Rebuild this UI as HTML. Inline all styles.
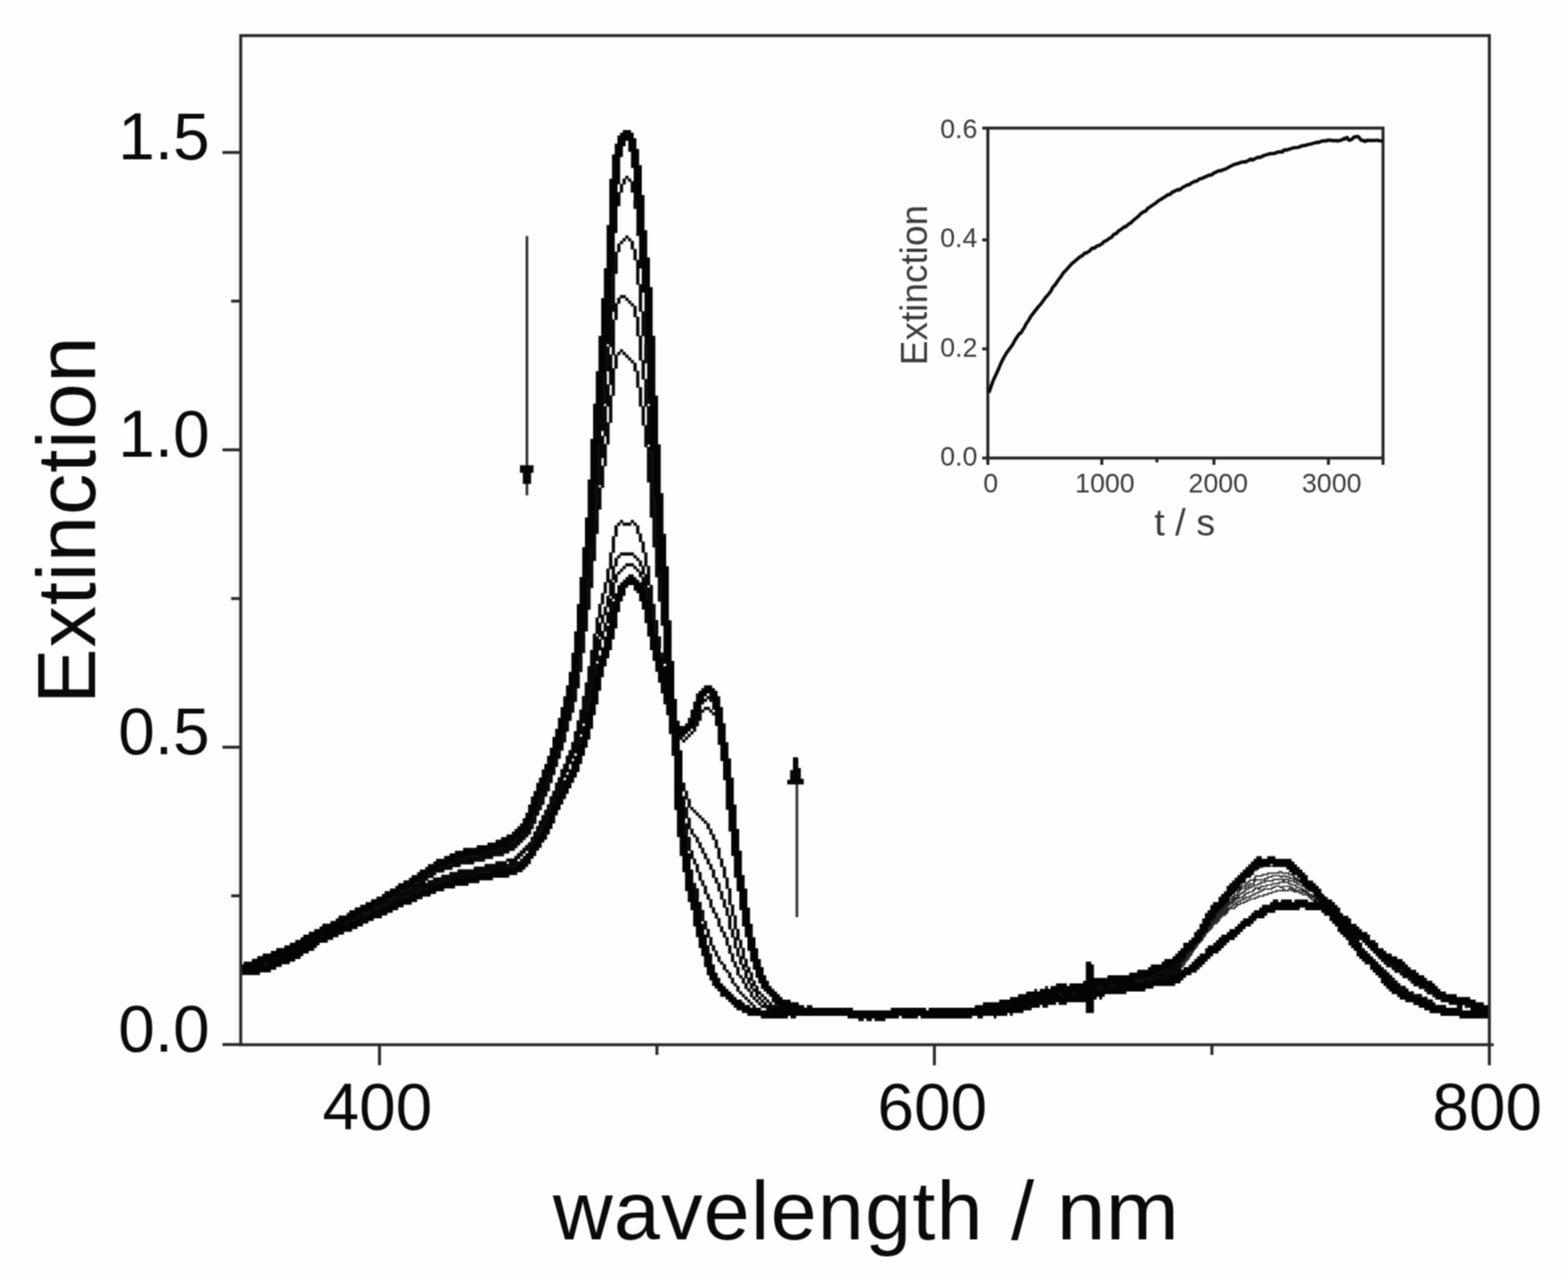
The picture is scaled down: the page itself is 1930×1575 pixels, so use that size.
<!DOCTYPE html>
<html lang="en"><head><meta charset="utf-8"><title>Extinction spectra</title>
<style>
html,body{margin:0;padding:0;background:#fefefe;}
body{width:1930px;height:1575px;overflow:hidden;}
svg{display:block;}
</style></head><body>
<svg xmlns="http://www.w3.org/2000/svg" xmlns:xlink="http://www.w3.org/1999/xlink" width="1930" height="1575" viewBox="0 0 1930 1575">
<defs><filter id="soft" filterUnits="userSpaceOnUse" x="0" y="0" width="1930" height="1575" color-interpolation-filters="sRGB"><feConvolveMatrix order="3" kernelMatrix="1 2 1 2 4 2 1 2 1" divisor="16" edgeMode="duplicate" preserveAlpha="true"/></filter></defs>
<g filter="url(#soft)">
<rect width="1930" height="1575" fill="#fefefe"/>
<path fill="none" stroke="#2a2a2a" stroke-width="1.7" stroke-linejoin="miter" d="M1451.7 1193.3h1.7v-3.3h1.7v-1.7h1.7v-1.7h1.7v-3.3h1.7v-1.7h1.7v-1.7h1.7v-3.3h1.7v-1.7h1.7v-3.3h1.7v-3.3h1.7v-1.7h1.7v-1.7h1.7v-3.3h1.7v-1.7h1.7v-1.7h1.7v-1.7h1.7v-3.3h1.7v-1.7h1.7v-3.3h1.7v-1.7h1.7v-1.7h1.7v-1.7h1.7v-1.7h1.7v-3.3h1.7v-1.7h1.7h1.7v-1.7h1.7v-1.7h1.7v-3.3h1.7v-1.7h1.7v-1.7h1.7h1.7v-1.7h1.7v-1.7h1.7v-3.3h1.7v-1.7h1.7h1.7h1.7h1.7v-1.7h1.7v-1.7h1.7v-1.7h1.7h1.7v-1.7h1.7h1.7h1.7v-1.7h1.7h1.7v-1.7h1.7h1.7v-1.7h1.7h1.7h1.7h1.7v-1.7h1.7h1.7v-1.7h1.7h1.7h1.7h1.7v-1.7h1.7h1.7h1.7v-1.7h1.7h1.7h1.7v-1.7h1.7h1.7h1.7v-1.7h1.7h1.7h1.7h1.7h1.7v-1.7h1.7v1.7h1.7h1.7h1.7v-1.7h1.7h1.7v1.7h1.7h1.7v1.7h1.7h1.7h1.7h1.7v1.7h1.7h1.7v1.7h1.7h1.7h1.7h1.7v1.7h1.7v1.7h1.7v1.7h1.7v1.7h1.7h1.7h1.7v1.7h1.7v1.7h1.7v-1.7h1.7h1.7v1.7h1.7h1.7v1.7h1.7v1.7h1.7v1.7h1.7v1.7h1.7v1.7h1.7v3.3h1.7h1.7M1451.7 1190h1.7v-1.7h1.7v-1.7h1.7v-3.3h1.7v-1.7h1.7v-1.7h1.7v-3.3h1.7v-1.7h1.7v-1.7h1.7v-3.3h1.7v-1.7h1.7v-3.3h1.7v-3.3h1.7v-1.7h1.7v-3.3h1.7v-1.7h1.7v-1.7h1.7v-3.3h1.7v-1.7h1.7v-1.7h1.7v-3.3h1.7v-1.7h1.7v-1.7h1.7v-1.7h1.7v-1.7h1.7v-1.7h1.7v-1.7h1.7v-1.7h1.7v-1.7h1.7v-1.7h1.7v-1.7h1.7v-1.7h1.7v-1.7h1.7v-1.7h1.7v-1.7h1.7v-1.7h1.7h1.7v-1.7h1.7v-1.7h1.7v-1.7h1.7h1.7v-1.7h1.7v-1.7h1.7h1.7v-1.7h1.7h1.7v-1.7h1.7h1.7v-1.7h1.7h1.7h1.7v-1.7h1.7h1.7v-1.7h1.7h1.7v-1.7h1.7h1.7v-1.7h1.7h1.7v-1.7h1.7h1.7v-1.7h1.7h1.7h1.7h1.7h1.7h1.7v-1.7h1.7h1.7v-1.7h1.7h1.7h1.7h1.7v1.7h1.7h1.7v-1.7h1.7h1.7h1.7h1.7h1.7v1.7h1.7h1.7v1.7h1.7h1.7v1.7h1.7h1.7h1.7h1.7h1.7v1.7h1.7h1.7v1.7h1.7h1.7v1.7h1.7v1.7h1.7h1.7v1.7h1.7h1.7v1.7h1.7h1.7v1.7h1.7v1.7h1.7v1.7h1.7h1.7h1.7v1.7h1.7v1.7h1.7v1.7h1.7v1.7h1.7h1.7v1.7h1.7v1.7h1.7M1451.7 1188.3h1.7v-1.7h1.7v-3.3h1.7v-1.7h1.7v-1.7h1.7v-1.7h1.7v-3.3h1.7v-1.7h1.7v-1.7h1.7v-3.3h1.7v-3.3h1.7v-1.7h1.7v-1.7h1.7v-1.7h1.7v-3.3h1.7v-1.7h1.7v-3.3h1.7v-1.7h1.7v-3.3h1.7v-1.7h1.7v-3.3h1.7v-1.7h1.7v-3.3h1.7v-1.7h1.7v-1.7h1.7v-1.7h1.7h1.7v-1.7h1.7v-1.7h1.7v-3.3h1.7v-1.7h1.7v-1.7h1.7v-1.7h1.7v-1.7h1.7v-1.7h1.7v-1.7h1.7v-1.7h1.7v-1.7h1.7h1.7v-1.7h1.7v-1.7h1.7v-1.7h1.7h1.7v-1.7h1.7h1.7h1.7v-1.7h1.7v-1.7h1.7v-1.7h1.7h1.7v-1.7h1.7h1.7h1.7v-1.7h1.7v-1.7h1.7v-1.7h1.7h1.7v1.7h1.7v-1.7h1.7v-1.7h1.7h1.7h1.7h1.7v-1.7h1.7h1.7h1.7h1.7v-1.7h1.7h1.7h1.7h1.7h1.7v-1.7h1.7h1.7h1.7h1.7h1.7h1.7h1.7v1.7h1.7h1.7v1.7h1.7h1.7h1.7v1.7h1.7v1.7h1.7h1.7h1.7v1.7h1.7h1.7v1.7h1.7h1.7v1.7h1.7v1.7h1.7v1.7h1.7h1.7v1.7h1.7v1.7h1.7h1.7v1.7h1.7v1.7h1.7h1.7v1.7h1.7h1.7h1.7v1.7h1.7v1.7h1.7v1.7h1.7v1.7h1.7v1.7h1.7v1.7h1.7v1.7h1.7M1451.7 1185h1.7v-1.7h1.7v-1.7h1.7v-1.7h1.7v-3.3h1.7v-1.7h1.7v-1.7h1.7v-1.7h1.7v-3.3h1.7v-1.7h1.7v-3.3h1.7v-1.7h1.7v-3.3h1.7v-1.7h1.7v-3.3h1.7v-1.7h1.7v-3.3h1.7v-1.7h1.7v-3.3h1.7v-1.7h1.7v-3.3h1.7v-1.7h1.7v-1.7h1.7v-1.7h1.7v-1.7h1.7v-1.7h1.7v-1.7h1.7v-1.7h1.7v-3.3h1.7v-1.7h1.7v-1.7h1.7v-1.7h1.7v-1.7h1.7v-1.7h1.7v-1.7h1.7v-1.7h1.7v-1.7h1.7h1.7v-1.7h1.7v-1.7h1.7v-1.7h1.7h1.7v-1.7h1.7v-1.7h1.7v-1.7h1.7h1.7v-1.7h1.7v-1.7h1.7v-1.7h1.7h1.7v-1.7h1.7h1.7v-1.7h1.7h1.7v-1.7h1.7h1.7h1.7v-1.7h1.7h1.7v-1.7h1.7h1.7h1.7v-1.7h1.7h1.7h1.7h1.7h1.7h1.7v-1.7h1.7h1.7h1.7h1.7h1.7h1.7h1.7v1.7h1.7v-1.7h1.7h1.7h1.7v1.7h1.7h1.7h1.7h1.7v1.7h1.7h1.7v1.7h1.7v1.7h1.7h1.7h1.7v1.7h1.7h1.7v1.7h1.7v1.7h1.7h1.7v1.7h1.7h1.7v1.7h1.7h1.7h1.7v1.7h1.7h1.7v1.7h1.7v1.7h1.7v1.7h1.7h1.7v1.7h1.7v1.7h1.7v3.3h1.7v1.7h1.7v1.7h1.7v1.7h1.7v1.7h1.7M1451.7 1185h1.7v-3.3h1.7v-1.7h1.7v-1.7h1.7v-3.3h1.7v-1.7h1.7v-1.7h1.7v-3.3h1.7v-1.7h1.7v-3.3h1.7v-3.3h1.7v-1.7h1.7v-1.7h1.7v-1.7h1.7v-1.7h1.7v-3.3h1.7v-3.3h1.7v-3.3h1.7v-1.7h1.7v-1.7h1.7v-1.7h1.7v-1.7h1.7v-1.7h1.7v-3.3h1.7v-3.3h1.7v-1.7h1.7v-1.7h1.7v-1.7h1.7v-1.7h1.7v-1.7h1.7v-3.3h1.7v-1.7h1.7v-1.7h1.7v-1.7h1.7v-1.7h1.7v-1.7h1.7v-1.7h1.7h1.7v-1.7h1.7v-1.7h1.7v-1.7h1.7h1.7v-3.3h1.7v-1.7h1.7v-1.7h1.7v-1.7h1.7h1.7h1.7v-1.7h1.7h1.7v-1.7h1.7v-1.7h1.7h1.7h1.7v-3.3h1.7v-1.7h1.7h1.7h1.7h1.7h1.7h1.7h1.7v-1.7h1.7h1.7v-1.7h1.7h1.7h1.7v-1.7h1.7h1.7h1.7h1.7h1.7h1.7v1.7h1.7h1.7v-1.7h1.7h1.7v1.7h1.7h1.7h1.7v1.7h1.7h1.7h1.7v1.7h1.7h1.7v1.7h1.7h1.7v1.7h1.7h1.7v1.7h1.7h1.7v1.7h1.7v1.7h1.7v1.7h1.7h1.7v1.7h1.7v1.7h1.7v1.7h1.7h1.7v1.7h1.7v1.7h1.7h1.7h1.7v1.7h1.7v1.7h1.7v1.7h1.7v1.7h1.7v3.3h1.7v1.7h1.7v1.7h1.7v1.7h1.7v1.7h1.7M1451.7 1181.7h1.7v-1.7h1.7v-1.7h1.7v-1.7h1.7v-3.3h1.7v-1.7h1.7v-1.7h1.7v-1.7h1.7v-3.3h1.7v-1.7h1.7v-1.7h1.7v-3.3h1.7v-1.7h1.7v-3.3h1.7v-3.3h1.7v-1.7h1.7v-3.3h1.7v-1.7h1.7v-3.3h1.7v-3.3h1.7v-1.7h1.7v-3.3h1.7v-1.7h1.7v-1.7h1.7h1.7v-3.3h1.7v-1.7h1.7v-3.3h1.7v-1.7h1.7v-3.3h1.7v-1.7h1.7v-1.7h1.7h1.7v-1.7h1.7v-1.7h1.7v-3.3h1.7v-1.7h1.7v-3.3h1.7h1.7v-1.7h1.7v-1.7h1.7v-1.7h1.7h1.7v-1.7h1.7v-1.7h1.7v-1.7h1.7h1.7h1.7v-1.7h1.7v-1.7h1.7v-1.7h1.7v-1.7h1.7h1.7h1.7v-1.7h1.7v-3.3h1.7h1.7h1.7h1.7h1.7v-1.7h1.7h1.7h1.7h1.7v-1.7h1.7h1.7h1.7h1.7h1.7h1.7h1.7h1.7v-1.7h1.7h1.7v1.7h1.7h1.7h1.7h1.7h1.7v1.7h1.7h1.7h1.7v1.7h1.7v1.7h1.7v1.7h1.7h1.7v1.7h1.7h1.7h1.7v1.7h1.7v1.7h1.7v1.7h1.7h1.7v1.7h1.7v1.7h1.7v1.7h1.7h1.7v1.7h1.7v1.7h1.7h1.7h1.7v1.7h1.7v3.3h1.7h1.7v1.7h1.7v1.7h1.7v3.3h1.7v1.7h1.7h1.7v3.3h1.7v3.3h1.7h1.7M1451.7 1178.3h1.7v-1.7h1.7v-1.7h1.7v-1.7h1.7h1.7v-3.3h1.7v-1.7h1.7v-1.7h1.7v-1.7h1.7v-1.7h1.7v-3.3h1.7v-3.3h1.7v-3.3h1.7v-1.7h1.7v-3.3h1.7v-1.7h1.7v-3.3h1.7v-1.7h1.7v-1.7h1.7v-3.3h1.7v-3.3h1.7v-1.7h1.7v-1.7h1.7v-3.3h1.7v-1.7h1.7v-1.7h1.7v-3.3h1.7v-1.7h1.7v-1.7h1.7v-1.7h1.7v-1.7h1.7v-1.7h1.7v-3.3h1.7v-1.7h1.7v-3.3h1.7v-1.7h1.7v-1.7h1.7v-1.7h1.7v-1.7h1.7v-1.7h1.7v-1.7h1.7v-1.7h1.7v-1.7h1.7v-1.7h1.7h1.7v-1.7h1.7v-3.3h1.7v-1.7h1.7v-1.7h1.7h1.7v-1.7h1.7v-1.7h1.7v-1.7h1.7v-1.7h1.7v-1.7h1.7h1.7v-1.7h1.7v-1.7h1.7h1.7h1.7v-1.7h1.7h1.7h1.7h1.7h1.7h1.7h1.7h1.7h1.7h1.7v-1.7h1.7h1.7h1.7v1.7h1.7h1.7h1.7h1.7h1.7h1.7h1.7v1.7h1.7v1.7h1.7v1.7h1.7h1.7v1.7h1.7v1.7h1.7v1.7h1.7v1.7h1.7v1.7h1.7v1.7h1.7h1.7v1.7h1.7v1.7h1.7h1.7v1.7h1.7v1.7h1.7v1.7h1.7v1.7h1.7v1.7h1.7v1.7h1.7v1.7h1.7v1.7h1.7v1.7h1.7v1.7h1.7v3.3h1.7h1.7h1.7v3.3h1.7v3.3h1.7v1.7h1.7h1.7v3.3h1.7"/>
<path fill="#080808" stroke="#080808" stroke-width="0.7" stroke-linejoin="miter" d="M770 216.67h3.33v3.33h-3.33zM773.33 220h3.33v3.33h-3.33zM770 220v6.67h-3.33v-6.67zM776.67 223.33h3.33v13.33h-3.33zM766.67 226.67v10h-3.33v-10zM763.33 236.67v16.67h-3.33v-16.67zM780 246.67h3.33v10h-3.33zM783.33 286.67h3.33v3.33h-3.33zM770 290h3.33v3.33h-3.33zM773.33 293.33h3.33v3.33h-3.33zM770 293.33v3.33h-3.33v-3.33zM766.67 296.67v3.33h-3.33v-3.33zM776.67 296.67h3.33v10h-3.33zM763.33 300v10h-3.33v-10zM780 306.67h3.33v13.33h-3.33zM760 310v26.67h-3.33v36.67h3.33v20h-3.33v-10h-3.33v10h3.33v43.33h-3.33v-10h-3.33v-3.33h-3.33v-3.33h3.33v-46.67h3.33v-40h3.33v-23.33zM783.33 320h6.67v10h-3.33v20h-3.33zM786.67 350h3.33v33.33h-3.33zM763.33 363.33h6.67v3.33h-6.67zM763.33 366.67v6.67h-3.33v-6.67zM770 366.67h3.33v3.33h-3.33zM773.33 370h3.33v3.33h-3.33zM776.67 373.33h3.33v3.33h-3.33zM780 376.67h3.33v13.33h-3.33zM790 383.33h3.33v30h-3.33zM783.33 390h3.33v23.33h-3.33zM786.67 413.33h3.33v30h-3.33zM750 426.67v10h3.33v16.67h3.33v33.33h-3.33v-13.33h-3.33v-16.67h-3.33v-30zM793.33 423.33h3.33v23.33h-3.33v20h-3.33v-23.33h3.33zM763.33 430h3.33v3.33h-3.33zM766.67 433.33h3.33v3.33h-3.33zM763.33 433.33v3.33h-3.33v-3.33zM756.67 436.67h3.33v16.67h-3.33zM770 436.67h3.33v3.33h-3.33zM773.33 440h3.33v3.33h-3.33zM776.67 443.33h3.33v3.33h-3.33zM780 446.67h3.33v10h-3.33zM783.33 456.67h3.33v20h-3.33zM743.33 460h3.33v13.33h3.33v13.33h3.33v33.33h-3.33v-20h-3.33v-3.33h-3.33zM793.33 466.67h3.33v26.67h3.33v3.33h-3.33v3.33h-3.33zM786.67 476.67h3.33v23.33h-3.33zM746.67 500v20h3.33v26.67h-3.33v-10h-3.33v-6.67h-3.33v-26.67h3.33v-3.33zM790 500h3.33v23.33h-3.33zM796.67 500h3.33v46.67h-3.33v3.33h-3.33v-26.67h3.33zM743.33 536.67v10h3.33v26.67h-3.33v-10h-3.33v10h3.33v26.67h-3.33v-3.33h-3.33v-50h3.33v-10zM796.67 550h3.33v6.67h3.33v56.67h3.33v50h3.33v43.33h3.33v33.33h-3.33v-30h-3.33v-36.67h-3.33v-36.67h-3.33v-43.33h-3.33zM736.67 596.67v3.33h3.33v26.67h-3.33v30h-3.33v33.33h-3.33v33.33h-3.33v26.67h-3.33v-36.67h3.33v-36.67h3.33v-36.67h3.33v-43.33zM763.33 640h3.33v3.33h-3.33zM766.67 643.33h10v3.33h-10zM763.33 643.33v3.33h-3.33v-3.33zM776.67 640h3.33v3.33h-3.33zM780 643.33h3.33v3.33h-3.33zM760 646.67v13.33h-3.33v-13.33zM783.33 646.67h3.33v10h-3.33zM786.67 656.67h3.33v10h-3.33zM756.67 660v20h-3.33v-20zM790 666.67h3.33v13.33h-3.33zM753.33 680v16.67h3.33v10h3.33v10h-3.33v-3.33h-3.33v-13.33h-3.33v-20zM793.33 680h3.33v16.67h-3.33zM763.33 680h16.67v3.33h-16.67zM763.33 683.33v3.33h-3.33v-3.33zM780 683.33h3.33v3.33h-3.33zM760 686.67v10h-3.33v-10zM783.33 686.67h3.33v3.33h-3.33zM786.67 690h3.33v6.67h-3.33zM770 693.33h10v3.33h-10zM770 696.67v3.33h-3.33v-3.33zM780 696.67h3.33v3.33h-3.33zM790 696.67h3.33v10h-3.33v3.33h-3.33v-6.67h3.33zM796.67 696.67h3.33v23.33h-3.33v3.33h3.33v-3.33h3.33v23.33h3.33v20h-3.33v-13.33h-3.33v-13.33h-3.33v-10h-3.33v-6.67h-3.33v-10h3.33v-3.33h3.33zM750 700v13.33h3.33v3.33h3.33v20h-3.33v-3.33h-3.33v-16.67h-3.33v-16.67zM766.67 700v3.33h-3.33v-3.33zM783.33 700h3.33v3.33h-3.33zM763.33 703.33v3.33h-3.33v-3.33zM746.67 716.67v13.33h-3.33v-13.33zM743.33 730v13.33h-3.33v-13.33zM750 733.33v3.33h3.33v13.33h-3.33v-3.33h-3.33v-13.33zM740 743.33v13.33h3.33v10h-3.33v-6.67h-3.33v-16.67zM746.67 746.67v6.67h3.33v13.33h-3.33v-10h-3.33v-10zM723.33 750v26.67h-3.33v-26.67zM736.67 760v6.67h3.33v10h3.33v10h-3.33v-3.33h-3.33v-3.33h-3.33v-20zM806.67 763.33h3.33v16.67h-3.33zM743.33 766.67h3.33v10h-3.33zM733.33 780v3.33h3.33v3.33h3.33v13.33h-3.33v13.33h-3.33v16.67h-3.33v16.67h-3.33v16.67h-3.33v13.33h-3.33v13.33h-3.33v13.33h-3.33v13.33h-3.33v10h-3.33v6.67h-3.33v6.67h-3.33v10h-3.33v6.67h-3.33v10h-3.33v6.67h-3.33v6.67h-3.33v6.67h-3.33v6.67h-3.33v6.67h-3.33v10h-3.33v6.67h-3.33v6.67h-3.33v6.67h-3.33v3.33h-3.33v6.67h-3.33v3.33h-3.33v3.33h-3.33v3.33h-3.33v3.33h-3.33v3.33h-3.33v6.67h-3.33v3.33h-10v3.33h-20v3.33h-16.67v3.33h-10v3.33h-23.33v3.33h-10v3.33h-10v3.33h-6.67v3.33h-10v3.33h-3.33v3.33h-10v3.33h-10v3.33h-6.67v3.33h-6.67v3.33h-6.67v-3.33h3.33v-3.33h6.67v-3.33h6.67v-3.33h3.33v-3.33h6.67v-3.33h6.67v-3.33h3.33v-3.33h6.67v-3.33h3.33v-3.33h6.67v3.33h-3.33v3.33h3.33v-3.33h6.67v-3.33h10v-3.33h10v-3.33h10v-3.33h20v-3.33h13.33v-3.33h13.33v-3.33h13.33v3.33h3.33v-3.33h-3.33v-3.33h10v-3.33h3.33v-3.33h3.33v-3.33h3.33v-3.33h3.33v-3.33h3.33v-3.33h3.33v-6.67h3.33v-6.67h3.33v-6.67h3.33v-6.67h3.33v-6.67h3.33v-6.67h3.33v-6.67h3.33v-10h3.33v-6.67h3.33v-10h3.33v-6.67h3.33v-10h3.33v-6.67h3.33v-10h3.33v-6.67h3.33v-10h3.33v-13.33h3.33v-13.33h3.33v-13.33h3.33v-16.67h3.33v-16.67h3.33v-20h3.33v-20h3.33v-20zM716.67 780h3.33v23.33h-3.33zM810 783.33h3.33v13.33h-3.33zM813.33 803.33h3.33v6.67h-3.33zM713.33 806.67h3.33v20h-3.33zM816.67 820h3.33v3.33h-3.33zM710 830h3.33v16.67h-3.33zM710 846.67v16.67h-3.33v13.33h-3.33v10h-3.33v-13.33h3.33v-13.33h3.33v-13.33zM870 856.67h3.33v3.33h-3.33zM873.33 860h3.33v3.33h-3.33zM870 860v3.33h-3.33v-3.33zM866.67 870h6.67v3.33h-6.67zM866.67 873.33v3.33h-3.33v-3.33zM873.33 873.33h3.33v3.33h-3.33zM863.33 876.67v10h-3.33v-10zM876.67 876.67h3.33v3.33h-3.33zM700 886.67v13.33h-3.33v-13.33zM860 886.67v6.67h-3.33v-6.67zM856.67 893.33v6.67h-3.33v-6.67zM696.67 900v13.33h-3.33v10h-3.33v-13.33h3.33v-10zM853.33 900v3.33h-3.33v-3.33zM850 903.33v3.33h-3.33v-3.33zM846.67 906.67v3.33h-3.33v-3.33zM836.67 906.67h3.33v3.33h-3.33zM840 910h3.33v3.33h-3.33zM690 923.33v10h-3.33v-10zM686.67 933.33v10h-3.33v10h-3.33v10h-3.33v10h-3.33v6.67h-3.33v10h-3.33v6.67h-3.33v6.67h-3.33v10h-3.33v6.67h-3.33v6.67h-3.33v3.33h-3.33v3.33h-3.33v3.33h-3.33v3.33h-3.33v3.33h-3.33v3.33h-6.67v3.33h-6.67v3.33h-13.33v3.33h-10v3.33h-13.33v3.33h-16.67v3.33h-10v3.33h-10v3.33h-10v-3.33h3.33v-3.33h10v-3.33h6.67v-3.33h6.67v-3.33h10v-3.33h16.67v-3.33h13.33v-3.33h10v-3.33h6.67v-3.33h6.67v-3.33h6.67v-3.33h3.33v-3.33h3.33v-3.33h6.67v-6.67h3.33v-3.33h3.33v-6.67h3.33v-10h3.33v-6.67h3.33v-10h3.33v-6.67h3.33v-10h3.33v-6.67h3.33v-10h3.33v-10h3.33v-6.67zM840 963.33h3.33v10h-3.33zM843.33 973.33h3.33v10h-3.33v6.67h-3.33v-10h3.33zM846.67 983.33h3.33v10h-3.33zM850 993.33h3.33v3.33h-3.33zM846.67 993.33v13.33h-3.33v-13.33zM853.33 996.67h3.33v3.33h-3.33zM856.67 1000h3.33v3.33h-3.33zM860 1003.33h3.33v3.33h-3.33zM846.67 1006.67h3.33v13.33h-3.33v6.67h-3.33v-13.33h3.33zM863.33 1006.67h3.33v3.33h-3.33zM866.67 1010h3.33v3.33h-3.33zM870 1013.33h3.33v6.67h-3.33zM850 1020h3.33v6.67h-3.33zM873.33 1020h3.33v6.67h-3.33zM853.33 1026.67h3.33v3.33h-3.33zM876.67 1026.67h3.33v6.67h-3.33zM856.67 1030h3.33v6.67h-3.33zM846.67 1030h3.33v16.67h-3.33zM880 1033.33h3.33v10h-3.33zM860 1036.67h3.33v6.67h-3.33zM863.33 1043.33h3.33v6.67h-3.33zM883.33 1043.33h3.33v13.33h-3.33zM850 1046.67h3.33v10h-3.33zM866.67 1050h3.33v6.67h-3.33zM853.33 1056.67h3.33v6.67h-3.33zM870 1056.67h3.33v6.67h-3.33zM886.67 1056.67h3.33v10h-3.33zM856.67 1063.33h3.33v10h-3.33zM873.33 1063.33h3.33v6.67h-3.33zM890 1066.67h3.33v13.33h-3.33zM876.67 1070h3.33v10h-3.33zM536.67 1073.33v3.33h-3.33v3.33h-6.67v-3.33h3.33v-3.33zM860 1073.33h3.33v10h-3.33zM880 1080h3.33v6.67h-3.33zM893.33 1080h3.33v13.33h-3.33zM863.33 1083.33h3.33v6.67h-3.33zM883.33 1086.67h3.33v10h-3.33zM853.33 1086.67h3.33v6.67h-3.33zM866.67 1090h3.33v10h-3.33zM856.67 1093.33h3.33v13.33h-3.33zM896.67 1093.33h3.33v20h-3.33zM886.67 1096.67h3.33v10h-3.33zM870 1100h3.33v6.67h-3.33zM873.33 1106.67h3.33v10h-3.33zM890 1106.67h3.33v10h-3.33zM473.33 1113.33v3.33h-6.67v-3.33zM860 1110h3.33v10h-3.33zM900 1113.33h3.33v13.33h-3.33zM466.67 1116.67v3.33h-6.67v-3.33zM876.67 1116.67h3.33v6.67h-3.33zM893.33 1116.67h3.33v10h-3.33zM863.33 1120h3.33v13.33h-3.33zM453.33 1120h3.33v3.33h-3.33zM453.33 1123.33v3.33h-6.67v-3.33zM880 1123.33h3.33v6.67h-3.33zM896.67 1126.67h3.33v16.67h-3.33zM903.33 1126.67h3.33v16.67h-3.33zM440 1126.67h3.33v3.33h-3.33zM883.33 1130h3.33v10h-3.33zM433.33 1130h3.33v3.33h-3.33zM866.67 1133.33h3.33v10h-3.33zM426.67 1133.33h3.33v3.33h-3.33zM886.67 1140h3.33v6.67h-3.33zM870 1143.33h3.33v10h-3.33zM900 1143.33h3.33v10h-3.33zM906.67 1143.33h3.33v13.33h-3.33v10h-3.33v-13.33h3.33zM890 1146.67h3.33v6.67h-3.33zM873.33 1153.33h3.33v10h-3.33zM893.33 1153.33h3.33v10h-3.33zM910 1156.67h3.33v10h-3.33zM1670 1153.33h3.33v3.33h-3.33zM876.67 1163.33h3.33v6.67h-3.33zM896.67 1163.33h3.33v10h-3.33zM906.67 1166.67h3.33v10h-3.33zM913.33 1166.67h3.33v13.33h-3.33v6.67h-3.33v-10h3.33zM880 1170h3.33v6.67h-3.33zM900 1173.33h3.33v10h-3.33zM883.33 1176.67h3.33v6.67h-3.33zM916.67 1180h3.33v10h-3.33v3.33h-3.33v-6.67h3.33zM1696.67 1176.67h3.33v3.33h-3.33zM1700 1180h3.33v3.33h-3.33zM886.67 1183.33h3.33v3.33h-3.33zM903.33 1183.33h3.33v6.67h-3.33zM1703.33 1183.33h6.67v3.33h3.33v3.33h-6.67v-3.33h-3.33zM326.67 1183.33h3.33v3.33h-3.33zM890 1186.67h3.33v6.67h-3.33zM1450 1183.33h3.33v13.33h-10v3.33h-3.33v3.33h-10v-3.33h-3.33v3.33h-10v-3.33h3.33v-3.33h13.33v-3.33h6.67v-3.33h6.67v-3.33h3.33zM906.67 1190h3.33v10h-3.33zM920 1190h3.33v6.67h-3.33v6.67h-3.33v-10h3.33zM1713.33 1190h6.67v3.33h6.67v3.33h3.33v3.33h3.33v3.33h-6.67v-3.33h-3.33v-3.33h-6.67v-3.33h-3.33zM893.33 1193.33h3.33v3.33h-3.33zM896.67 1196.67h3.33v6.67h-3.33zM923.33 1196.67h3.33v10h-3.33v3.33h-3.33v-6.67h3.33zM1703.33 1193.33h3.33v3.33h-3.33zM1706.67 1196.67h3.33v3.33h-3.33zM910 1200h3.33v3.33h-3.33zM1710 1200h3.33v3.33h3.33v3.33h-6.67zM900 1203.33h3.33v6.67h-3.33zM913.33 1203.33h3.33v6.67h-3.33zM1416.67 1203.33v3.33h-10v-3.33zM1733.33 1203.33h3.33v3.33h-3.33zM926.67 1206.67h3.33v6.67h-3.33v3.33h-3.33v-6.67h3.33zM1406.67 1206.67v3.33h-10v-3.33zM1716.67 1206.67h3.33v3.33h-3.33zM1736.67 1206.67h3.33v3.33h-3.33zM903.33 1210h3.33v3.33h-3.33zM916.67 1210h3.33v6.67h-3.33zM1720 1210h3.33v3.33h6.67v3.33h3.33v3.33h-6.67v-3.33h-6.67zM1740 1210h6.67v3.33h-6.67zM906.67 1213.33h3.33v6.67h-3.33zM930 1213.33h3.33v6.67h3.33v3.33h-3.33v3.33h-3.33v-6.67h-3.33v-3.33h3.33zM1366.67 1210h6.67v3.33h-6.67zM1746.67 1213.33h3.33v3.33h-3.33zM920 1216.67h3.33v3.33h-3.33zM1350 1213.33h6.67v3.33h-6.67zM910 1220h3.33v3.33h-3.33zM923.33 1220h3.33v6.67h-3.33zM1753.33 1216.67h3.33v3.33h-3.33zM1756.67 1220h6.67v3.33h-6.67zM913.33 1223.33h3.33v3.33h-3.33zM936.67 1223.33h3.33v3.33h-3.33zM1303.33 1220h6.67v6.67h-3.33v-3.33h-3.33zM1320 1220h3.33v3.33h-3.33zM1736.67 1220h3.33v3.33h-3.33zM1763.33 1223.33h3.33v3.33h-3.33zM916.67 1226.67h3.33v3.33h-3.33zM926.67 1226.67h3.33v3.33h-3.33zM933.33 1226.67h3.33v3.33h-3.33zM940 1226.67h3.33v3.33h-3.33zM1743.33 1223.33h6.67v3.33h-6.67zM920 1230h3.33v3.33h-3.33zM930 1230h3.33v3.33h-3.33zM936.67 1230h3.33v3.33h-3.33zM943.33 1230h3.33v3.33h-3.33zM1753.33 1226.67h3.33v3.33h-3.33zM1756.67 1230h6.67v3.33h-6.67zM923.33 1233.33h3.33v3.33h-3.33zM933.33 1233.33h3.33v3.33h-3.33zM940 1233.33h3.33v3.33h3.33v-3.33h3.33v3.33h10v3.33h-10v3.33h-6.67v-3.33h-6.67v-3.33h3.33zM926.67 1236.67h3.33v3.33h-3.33zM1803.33 1236.67h3.33v3.33h-3.33z"/>
<path fill="#040404" d="M766.67 160h10v3.33h3.33v6.67h3.33v13.33h3.33v20h3.33v36.67h3.33v43.33h3.33v33.33h3.33v36.67h3.33v60h3.33v73.33h3.33v60h3.33v60h3.33v50h3.33v40h3.33v66.67h3.33v50h3.33v46.67h3.33v26.67h3.33v6.67h6.67v-3.33h3.33v-6.67h3.33v-10h3.33v-10h3.33v-10h3.33v-3.33h3.33v-3.33h3.33v-3.33h10v3.33h3.33v3.33h3.33v6.67h3.33v13.33h3.33v20h3.33v23.33h3.33v20h3.33v23.33h3.33v33.33h3.33v30h3.33v26.67h3.33v30h3.33v16.67h3.33v23.33h3.33v20h3.33v16.67h3.33v13.33h3.33v13.33h3.33v10h3.33v10h3.33v6.67h3.33v6.67h3.33v3.33h3.33v3.33h3.33v3.33h3.33v3.33h3.33v3.33h10v3.33h10v3.33h6.67v3.33h3.33v-3.33h6.67v3.33h50v3.33h46.67v-3.33h43.33v3.33h3.33v-3.33h56.67v-3.33h10v-3.33h20v-3.33h13.33v-3.33h10v-3.33h10v-3.33h10v-3.33h3.33v3.33h3.33v-3.33h6.67v-3.33h3.33v3.33h3.33v-3.33h6.67v-3.33h13.33v3.33h3.33v-3.33h16.67v-3.33h3.33v-23.33h6.67v3.33h3.33v16.67h16.67v-3.33h26.67v-3.33h10v-3.33h13.33v-3.33h3.33v-3.33h13.33v-3.33h3.33v-3.33h10v-3.33h3.33v-3.33h3.33v-3.33h3.33v-3.33h3.33v-6.67h6.67v-3.33h3.33v-3.33h3.33v-6.67h3.33v-3.33h3.33v-6.67h3.33v-6.67h3.33v-6.67h3.33v-3.33h3.33v-6.67h3.33v-3.33h6.67v-6.67h3.33v-3.33h3.33v-3.33h3.33v-6.67h3.33v-3.33h3.33v-3.33h3.33v-3.33h3.33v-3.33h3.33v-3.33h3.33v-3.33h3.33v-3.33h3.33v-3.33h3.33v-3.33h3.33v-3.33h3.33v-3.33h6.67v3.33h6.67v-3.33h10v3.33h20v3.33h3.33v3.33h3.33v3.33h3.33v3.33h3.33v3.33h3.33v3.33h3.33v6.67h6.67v3.33h3.33v3.33h3.33v3.33h3.33v6.67h3.33v3.33h3.33v3.33h6.67v3.33h3.33v3.33h3.33v3.33h3.33v6.67h3.33v3.33h6.67v3.33h3.33v6.67h6.67v3.33h3.33v3.33h3.33v3.33h6.67v3.33h3.33v6.67h6.67v3.33h3.33v6.67h6.67v3.33h3.33v3.33h6.67v3.33h6.67v3.33h6.67v3.33h3.33v3.33h3.33v3.33h3.33v3.33h6.67v3.33h3.33v3.33h6.67v3.33h3.33v3.33h6.67v3.33h3.33v3.33h3.33v3.33h3.33v3.33h6.67v3.33h13.33v3.33h16.67v3.33h6.67v3.33h10v3.33h6.67v16.67h-36.67v-3.33h-23.33v-3.33h-13.33v-3.33h-6.67v-3.33h-6.67v-3.33h-6.67v-3.33h-10v-3.33h-6.67v-3.33h-3.33v-3.33h-6.67v-3.33h-3.33v-3.33h-3.33v-3.33h-3.33v-3.33h-3.33v-6.67h-3.33v-3.33h-3.33v-3.33h-3.33v-3.33h-3.33v-6.67h-6.67v-3.33h-3.33v-3.33h-3.33v-3.33h-3.33v-6.67h-3.33v-3.33h-3.33v-3.33h-3.33v-6.67h-3.33v-3.33h-3.33v-3.33h-3.33v-3.33h-3.33v-6.67h-3.33v-3.33h-3.33v-3.33h-3.33v-6.67h-6.67v-3.33h-3.33v-3.33h-20v-3.33h-6.67v3.33h-30v3.33h-10v3.33h-3.33v3.33h-10v3.33h-3.33v3.33h-3.33v3.33h-6.67v3.33h-3.33v3.33h-3.33v3.33h-3.33v3.33h-3.33v3.33h-6.67v3.33h-3.33v3.33h-3.33v3.33h-3.33v3.33h-3.33v3.33h-6.67v3.33h-3.33v3.33h-3.33v3.33h-3.33v3.33h-3.33v3.33h-3.33v3.33h-3.33v3.33h-6.67v3.33h-6.67v3.33h-3.33v3.33h-3.33v3.33h-6.67v3.33h-26.67v3.33h-10v3.33h-23.33v3.33h-26.67v3.33h-3.33v3.33h-3.33v-3.33h-3.33v3.33h-3.33v16.67h-10v-13.33h-23.33v3.33h-10v-3.33h-3.33v3.33h-10v3.33h-6.67v-3.33h-3.33v3.33h-10v3.33h-10v3.33h-13.33v3.33h-3.33v-3.33h-3.33v3.33h-13.33v3.33h-3.33v-3.33h-13.33v3.33h-6.67v-3.33h-6.67v3.33h-63.33v-3.33h-3.33v3.33h-20v-3.33h-3.33v3.33h-16.67v3.33h-13.33v-3.33h-3.33v3.33h-6.67v-3.33h-3.33v3.33h-6.67v-3.33h-13.33v-3.33h-63.33v3.33h-6.67v-3.33h-3.33v3.33h-33.33v-3.33h-16.67v-3.33h-6.67v-3.33h-6.67v-3.33h-3.33v-3.33h-3.33v-3.33h-3.33v-3.33h-3.33v-3.33h-6.67v-6.67h-3.33v-3.33h-3.33v-3.33h-3.33v-6.67h-3.33v-6.67h-3.33v-10h-3.33v-13.33h-3.33v-10h-3.33v-13.33h-3.33v-13.33h-3.33v-20h-3.33v-10h-3.33v-13.33h-3.33v-23.33h-3.33v-20h-3.33v-23.33h-3.33v-33.33h-3.33v-66.67h-3.33v-26.67h-3.33v-23.33h-3.33v-13.33h-3.33v-13.33h-3.33v-13.33h-3.33v-13.33h-3.33v-13.33h-3.33v-13.33h-3.33v-16.67h-3.33v-16.67h-3.33v-16.67h-3.33v-10h-3.33v-10h-3.33v-3.33h-3.33v-6.67h-6.67v3.33h-3.33v10h-3.33v6.67h-3.33v13.33h-3.33v20h-3.33v13.33h-3.33v13.33h-3.33v10h-3.33v10h-3.33v13.33h-3.33v16.67h-3.33v16.67h-3.33v13.33h-3.33v16.67h-3.33v13.33h-3.33v10h-3.33v10h-3.33v10h-3.33v10h-3.33v6.67h-3.33v6.67h-3.33v6.67h-3.33v6.67h-3.33v6.67h-3.33v6.67h-3.33v6.67h-3.33v6.67h-3.33v10h-3.33v6.67h-3.33v6.67h-3.33v6.67h-3.33v3.33h-3.33v6.67h-3.33v3.33h-3.33v6.67h-3.33v3.33h-3.33v6.67h-3.33v3.33h-3.33v3.33h-3.33v3.33h-6.67v3.33h-10v3.33h-20v3.33h-16.67v3.33h-13.33v3.33h-16.67v3.33h-13.33v3.33h-10v3.33h-6.67v3.33h-10v3.33h-6.67v3.33h-6.67v3.33h-10v3.33h-6.67v3.33h-6.67v3.33h-6.67v3.33h-6.67v3.33h-10v3.33h-6.67v3.33h-6.67v3.33h-6.67v3.33h-6.67v3.33h-10v3.33h-6.67v3.33h-6.67v3.33h-6.67v3.33h-10v3.33h-3.33v3.33h-3.33v3.33h-6.67v3.33h-6.67v3.33h-3.33v3.33h-6.67v3.33h-6.67v3.33h-10v3.33h-6.67v3.33h-6.67v3.33h-13.33v3.33h-23.33v-13.33h3.33v-3.33h10v-3.33h6.67v-3.33h6.67v-3.33h10v-3.33h6.67v-3.33h10v-3.33h6.67v-3.33h6.67v-3.33h6.67v-3.33h3.33v-3.33h6.67v-3.33h6.67v-3.33h6.67v-3.33h3.33v-3.33h10v-3.33h6.67v-3.33h3.33v-3.33h10v-3.33h3.33v-3.33h6.67v-3.33h6.67v-3.33h6.67v-3.33h6.67v-3.33h6.67v-3.33h6.67v-3.33h3.33v-3.33h6.67v-3.33h6.67v-3.33h3.33v-3.33h6.67v-3.33h6.67v-3.33h3.33v-3.33h6.67v-3.33h3.33v-3.33h6.67v-3.33h3.33v-3.33h6.67v-3.33h3.33v-3.33h10v-3.33h6.67v-3.33h6.67v-3.33h10v-3.33h16.67v-3.33h13.33v-3.33h10v-3.33h6.67v-3.33h6.67v-3.33h6.67v-3.33h3.33v-3.33h3.33v-3.33h3.33v-3.33h3.33v-6.67h3.33v-6.67h3.33v-10h3.33v-10h3.33v-6.67h3.33v-10h3.33v-6.67h3.33v-10h3.33v-6.67h3.33v-10h3.33v-10h3.33v-13.33h3.33v-10h3.33v-13.33h3.33v-13.33h3.33v-13.33h3.33v-13.33h3.33v-16.67h3.33v-23.33h3.33v-26.67h3.33v-33.33h3.33v-33.33h3.33v-36.67h3.33v-36.67h3.33v-46.67h3.33v-50h3.33v-43.33h3.33v-40h3.33v-43.33h3.33v-46.67h3.33v-36.67h3.33v-53.33h3.33v-56.67h3.33v-30h3.33v-13.33h3.33v-10h3.33v-3.33h3.33zM773.33 173.33h-3.33v6.67h-3.33v13.33h-3.33v33.33h-3.33v60h-3.33v46.67h-3.33v40h-3.33v46.67h-3.33v40h-3.33v43.33h-3.33v43.33h-3.33v50h-3.33v43.33h-3.33v36.67h-3.33v36.67h-3.33v36.67h-3.33v30h-3.33v26.67h-3.33v23.33h-3.33v16.67h-3.33v13.33h-3.33v13.33h-3.33v13.33h-3.33v13.33h-3.33v10h-3.33v13.33h-3.33v10h-3.33v6.67h-3.33v10h-3.33v10h-3.33v6.67h-3.33v10h-3.33v6.67h-3.33v10h-3.33v6.67h-3.33v10h-3.33v6.67h-3.33v3.33h-3.33v6.67h-6.67v3.33h-3.33v3.33h-3.33v3.33h-6.67v3.33h-6.67v3.33h-6.67v3.33h-10v3.33h-13.33v3.33h-16.67v3.33h-10v3.33h-6.67v3.33h-6.67v3.33h-10v3.33h-3.33v3.33h-6.67v3.33h-3.33v3.33h-6.67v3.33h-3.33v3.33h-6.67v3.33h-3.33v3.33h-6.67v3.33h-6.67v3.33h-3.33v3.33h-6.67v3.33h-6.67v3.33h-3.33v3.33h-6.67v3.33h-6.67v3.33h6.67v-3.33h6.67v-3.33h6.67v-3.33h6.67v-3.33h6.67v-3.33h10v-3.33h10v-3.33h3.33v-3.33h10v-3.33h6.67v-3.33h10v-3.33h10v-3.33h23.33v-3.33h10v-3.33h16.67v-3.33h20v-3.33h10v-3.33h3.33v-3.33h3.33v-3.33h3.33v-3.33h3.33v-3.33h3.33v-6.67h3.33v-3.33h3.33v-6.67h3.33v-3.33h3.33v-6.67h3.33v-6.67h3.33v-6.67h3.33v-10h3.33v-6.67h3.33v-6.67h3.33v-6.67h3.33v-6.67h3.33v-6.67h3.33v-6.67h3.33v-6.67h3.33v-6.67h3.33v-10h3.33v-6.67h3.33v-13.33h3.33v-10h3.33v-13.33h3.33v-16.67h3.33v-13.33h3.33v-16.67h3.33v-16.67h3.33v-13.33h3.33v-10h3.33v-10h3.33v-13.33h3.33v-13.33h3.33v-20h3.33v-10h3.33v-10h3.33v-10h3.33v-3.33h3.33v-3.33h3.33v-3.33h3.33v-3.33h6.67v3.33h3.33v3.33h3.33v3.33h3.33v3.33h3.33v6.67h3.33v10h3.33v13.33h3.33v13.33h3.33v16.67h3.33v16.67h3.33v13.33h3.33v-40h-3.33v-63.33h-3.33v-43.33h-3.33v-50h-3.33v-56.67h-3.33v-63.33h-3.33v-70h-3.33v-63.33h-3.33v-40h-3.33v-33.33h-3.33v-40h-3.33v-40h-3.33v-20h-3.33zM820 816.67h-3.33v6.67h3.33zM873.33 853.33h-3.33v3.33h-3.33v10h-3.33v10h-3.33v10h-3.33v6.67h-3.33v3.33h-3.33v3.33h-3.33v3.33h-3.33v3.33h-6.67v16.67h3.33v66.67h3.33v36.67h3.33v23.33h3.33v20h3.33v23.33h3.33v13.33h3.33v13.33h3.33v16.67h3.33v13.33h3.33v13.33h3.33v10h3.33v13.33h3.33v10h3.33v6.67h3.33v6.67h3.33v3.33h3.33v3.33h3.33v3.33h3.33v3.33h3.33v3.33h3.33v3.33h6.67v3.33h3.33v3.33h6.67v3.33h13.33v3.33h13.33v-3.33h10v-3.33h-6.67v-3.33h-3.33v-6.67h-3.33v-3.33h-3.33v-3.33h-3.33v-3.33h-3.33v-6.67h-3.33v-6.67h-3.33v-10h-3.33v-10h-3.33v-13.33h-3.33v-16.67h-3.33v-13.33h-3.33v-20h-3.33v-23.33h-3.33v-16.67h-3.33v-26.67h-3.33v-30h-3.33v-26.67h-3.33v-36.67h-3.33v-23.33h-3.33v-20h-3.33v-23.33h-3.33v-20h-3.33v-13.33h-3.33zM1566.67 1063.33h-3.33v3.33h-13.33v3.33h-6.67v6.67h-3.33v3.33h-6.67v6.67h-6.67v6.67h-3.33v3.33h-3.33v3.33h-3.33v3.33h-3.33v6.67h-3.33v3.33h-3.33v3.33h-3.33v3.33h-3.33v3.33h-3.33v6.67h-3.33v3.33h-3.33v6.67h-3.33v6.67h-3.33v3.33h-3.33v6.67h-3.33v3.33h-3.33v3.33h-3.33v6.67h-6.67v3.33h-3.33v6.67h-3.33v3.33h-6.67v3.33h-3.33v3.33h-6.67v3.33h-6.67v3.33h-13.33v3.33h-3.33v3.33h-10v3.33h-10v3.33h10v-3.33h10v-3.33h10v-3.33h3.33v3.33h10v-3.33h3.33v-3.33h10v-3.33h3.33v-3.33h6.67v-3.33h3.33v-3.33h3.33v-3.33h3.33v-3.33h3.33v-3.33h6.67v-6.67h3.33v-3.33h6.67v-3.33h3.33v-3.33h3.33v-3.33h3.33v-3.33h6.67v-3.33h3.33v-3.33h6.67v-3.33h3.33v-3.33h3.33v-3.33h3.33v-3.33h6.67v-3.33h3.33v-3.33h3.33v-3.33h6.67v-3.33h3.33v-3.33h10v-3.33h3.33v-3.33h6.67v3.33h3.33v-3.33h13.33v3.33h3.33v-3.33h16.67v3.33h6.67v-3.33h3.33v3.33h3.33v-3.33h-3.33v-3.33h-3.33v-6.67h-6.67v-3.33h-3.33v-3.33h-3.33v-3.33h-3.33v-6.67h-3.33v-3.33h-6.67v-3.33h-3.33v-3.33h-3.33v-3.33h-16.67zM456.67 1120h-3.33v3.33h-6.67v3.33h6.67v-3.33h3.33zM443.33 1126.67h-3.33v3.33h3.33zM436.67 1130h-3.33v3.33h3.33zM430 1133.33h-3.33v3.33h3.33zM1673.33 1153.33h-3.33v3.33h3.33v3.33h3.33v6.67h3.33v3.33h3.33v3.33h3.33v3.33h3.33v3.33h3.33v3.33h3.33v3.33h3.33v3.33h3.33v6.67h3.33v3.33h3.33v6.67h6.67v3.33h3.33v6.67h6.67v3.33h10v3.33h6.67v3.33h10v3.33h3.33v3.33h10v3.33h13.33v3.33h13.33v-3.33h-10v-3.33h-10v-3.33h-6.67v-6.67h-3.33v-3.33h-6.67v-3.33h-6.67v-3.33h-3.33v-3.33h-6.67v-3.33h-3.33v-3.33h-3.33v-3.33h-3.33v-3.33h-3.33v-3.33h-6.67v-3.33h-6.67v-3.33h-3.33v-3.33h-6.67v-3.33h-3.33v-3.33h-6.67v-3.33h-3.33v-3.33h-3.33v-3.33h-3.33v-3.33h-3.33v-3.33h-3.33v-3.33h-3.33zM330 1183.33h-3.33v3.33h3.33zM1366.67 1210v3.33h6.67v-3.33zM1350 1213.33v3.33h6.67v-3.33zM1303.33 1220v3.33h3.33v3.33h3.33v-6.67zM1323.33 1220h-3.33v3.33h3.33zM1800 1236.67v6.67h10v-3.33h-3.33v-3.33z"/>
<g stroke="#2b2b2b" stroke-width="3.7" fill="none" stroke-linecap="butt">
<rect x="296.3" y="43.8" width="1536.9" height="1241.7"/>
<path d="M273.8 1285.3H296.3"/>
<path d="M273.8 919.4H296.3"/>
<path d="M273.8 553.5H296.3"/>
<path d="M273.8 187.6H296.3"/>
<path d="M284.5 1102.3H296.3"/>
<path d="M284.5 736.5H296.3"/>
<path d="M284.5 370.5H296.3"/>
<path d="M467.1 1285.5V1310.8"/>
<path d="M1150.1 1285.5V1310.8"/>
<path d="M1833.2 1285.5V1310.8"/>
<path d="M808.6 1285.5V1298"/>
<path d="M1491.7 1285.5V1298"/>
<path d="M1833.2 1285.5H1838.5"/>
</g>
<g font-family="Liberation Sans, Arial, Helvetica, sans-serif" font-size="81" fill="#0a0a0a">
<text x="258" y="1294.1" text-anchor="end">0.0</text>
<text x="258" y="928.2" text-anchor="end">0.5</text>
<text x="258" y="562.3" text-anchor="end">1.0</text>
<text x="258" y="196.4" text-anchor="end">1.5</text>
<text x="464.5" y="1390.4" text-anchor="middle">400</text>
<text x="1147.5" y="1390.4" text-anchor="middle">600</text>
<text x="1830.6" y="1390.4" text-anchor="middle">800</text>
</g>
<text font-family="Liberation Sans, Arial, Helvetica, sans-serif" font-size="102" fill="#0a0a0a" y="1525.3"><tspan x="680.4" textLength="529" lengthAdjust="spacing">wavelength</tspan><tspan x="1244.5">/</tspan><tspan x="1300.4" textLength="151" lengthAdjust="spacingAndGlyphs">nm</tspan></text>
<text font-family="Liberation Sans, Arial, Helvetica, sans-serif" font-size="102" fill="#0a0a0a" transform="translate(116.6 640) rotate(-90)" text-anchor="middle" textLength="452" lengthAdjust="spacing">Extinction</text>
<g stroke="#383838" stroke-width="3.4" fill="#060606">
<path d="M648.6 290.6V609.4" fill="none"/>
<path d="M640 572.5H656.7V581.8H653.7V595.4H643.5V581.8H640Z" stroke="none"/>
<path d="M980.9 934V1128.5" fill="none"/>
<path d="M976 931.7H982.3V945H985.7V958.3H989.3V965.2H969V959.6H972.5V947.5H976Z" stroke="none"/>
</g>
<g stroke="#262626" stroke-width="3.7" fill="none">
<rect x="1215.9" y="157.6" width="486.4" height="406.0" fill="#fefefe"/>
<path d="M1209 157.6H1215.9"/>
<path d="M1209 295.2H1215.9"/>
<path d="M1209 429.3H1215.9"/>
<path d="M1209 563.6H1215.9"/>
<path d="M1215.9 563.6V572"/>
<path d="M1356.2 563.6V572"/>
<path d="M1494.2 563.6V572"/>
<path d="M1635.1 563.6V572"/>
<path d="M1702.3 563.6V572"/>
<path d="M1424 563.6V569"/>
</g>
<path d="M1217.1 483.2l5-14l7-15.2l3-7.3l3-6l4-6.8l7-9.4l4-7.3l2-2.9l3-4.1l1-0.1l2-2.6l1-2.1l2-2.8l1-2.4l2-3.4l1-1l4-6.9l10-12.8l1-0.7l8-10.8l1-0.8l3-3.8l2-2.7l1-2.6l2-2.8l1-0.7l5-7.3l2-2.4l4-6.1l1-0.8l9-10l11-9.3l1 0l2-1.5l1-1.4l2-1.4l1 0.4l5-3.3l1-1.8l2-1.1l1 0.5l2-1.1l1-1.2l2-1l1 0l1-0.5l4-2.4l1-1.6l2-1.4l1 0.1l5-3.8l1-0.1l2-1.6l1-1.8l2-1.6l1 0.2l2-1.5l1-1.6l2-1.5l1-0.4l5-4l1 0.4l5-4.3l1-0.2l2-1.5l1-1.4l8-6.5l1-1.5l2-1.6l3-2.1l1 0l2-1.5l1-1.7l2-1.5l9-5.9l1-1.2l2-1.4l9-5.6l1-1l2-1.1l1 0.3l2-1l1-1.6l8-3.8l1 0.7l2-1l1-1.2l3-1.8l5-2.6l1 0.2l2-1l1-1.2l5-2.5l1 0.4l2-0.9l1-1.4l2-0.9l1 0l11-4.7l1 0.3l2-0.8l1-1.3l6-2.9l2-0.7l1 0.4l5-2l1-0.2l2-0.9l1-0.9l8-3.9l3-1l1 0l5-1.8l3-0.6l1 0.5l2-0.5l1-0.9l2-0.6l1-1.3l2-0.5l1 1.3l2-0.6l1-1l2-0.6l1-0.9l2-0.6l1 0.6l2-0.6l1-0.8l3-1.2l6-1.9l2-0.5l1 0.3l2-0.5l1 0.2l2-0.5l1-0.9l2-0.5l1 0.1l2-0.5l1 0.5l2-0.5l1-1.8l2-0.5l1 0.5l5-1.5l1-0.6l5-1.2l1 0.2l3-0.5l5-1.9l4-0.5l3-1l4-0.7l7-2.1l1 0.5l2-0.5l1-0.8l3-0.8l5-0.1l1-0.9l5 0.2l1 0.5l5-0.2l1 0.5l2-0.1l1-0.8l2-0.1l3-2l1 0.7l1-0.9l2-1l2 3.2l2 0l1-0.9l1-0.1l1-1.3l2-1.7l2 0.2l1-0.8l2 0.4l3 4.1l1 0.4l2 0l1 1.1l2 0l1-1.2l8 0.3l6-0.4l1 0.6l5 0.4" stroke="#0a0a0a" stroke-width="4.2" stroke-linejoin="round" fill="none"/>
<g font-family="Liberation Sans, Arial, Helvetica, sans-serif" font-size="33" fill="#3a3a3a">
<text x="1203" y="169.6" text-anchor="end">0.6</text>
<text x="1203" y="304.3" text-anchor="end">0.4</text>
<text x="1203" y="438.7" text-anchor="end">0.2</text>
<text x="1203" y="572.6" text-anchor="end">0.0</text>
<text x="1219.4" y="606" text-anchor="middle">0</text>
<text x="1360" y="606" text-anchor="middle">1000</text>
<text x="1499.5" y="606" text-anchor="middle">2000</text>
<text x="1639.2" y="606" text-anchor="middle">3000</text>
<text x="1458.2" y="659.4" font-size="46.5" text-anchor="middle">t / s</text>
<text font-size="45.5" transform="translate(1141 350.8) rotate(-90)" text-anchor="middle">Extinction</text>
</g>
</g>
</svg>
</body></html>
